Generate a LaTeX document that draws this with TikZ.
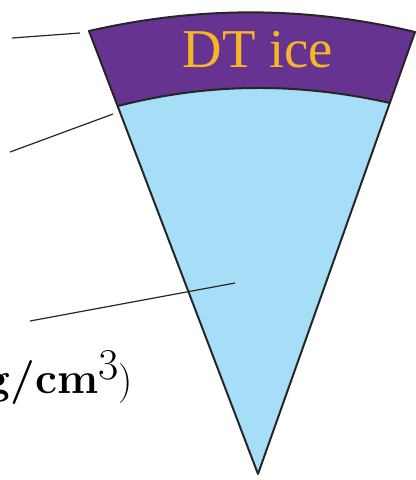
\documentclass[tikz,border=0pt]{standalone}
\usepackage{fontspec}
\setmainfont{Liberation Serif}
\newfontfamily\lmfont{Latin Modern Roman}
\definecolor{icepurple}{RGB}{102,51,145}
\definecolor{gasblue}{RGB}{166,222,247}
\definecolor{labelgold}{RGB}{247,181,40}
\begin{document}
\begin{tikzpicture}[
  x=0.75pt,y=-0.75pt,
  shell/.style={draw=black!85, line width=1.5pt, line join=round},
  leader/.style={draw=black!85, line width=0.9pt}
]
\useasboundingbox (0,0) rectangle (416,480);
\coordinate (apex) at (258,474);
\coordinate (outerL) at (89,31);
\coordinate (outerR) at (415,32);
\coordinate (innerL) at (118,106);
\coordinate (innerR) at (390,103);
\fill[icepurple] (outerL) .. controls (198,6) and (306,6) .. (outerR) -- (innerR) .. controls (299,82.5) and (209,82.5) .. (innerL) -- cycle;
\fill[gasblue] (innerL) .. controls (209,82.5) and (299,82.5) .. (innerR) -- (apex) -- cycle;
\draw[shell] (apex) -- (outerL) .. controls (198,6) and (306,6) .. (outerR) -- cycle;
\draw[shell] (innerL) .. controls (209,82.5) and (299,82.5) .. (innerR);
\node[text=labelgold, font=\fontsize{41}{48}\selectfont, anchor=base] (ice) at (258,67) {DT ice};
\node[font=\lmfont, anchor=base east, inner sep=0pt] (density) at (133,393) {{\fontsize{33}{40}\selectfont\bfseries g/cm}\raisebox{10pt}{\fontsize{33}{40}\selectfont 3}{\fontsize{30}{36}\selectfont)}};
\coordinate (lead1a) at (12,38);
\coordinate (lead1b) at (80,33);
\coordinate (lead2a) at (10,152);
\coordinate (lead2b) at (113,114);
\coordinate (lead3a) at (30,321);
\coordinate (lead3b) at (235,283);
\draw[leader] (lead1a) -- (lead1b);
\draw[leader] (lead2a) -- (lead2b);
\draw[leader] (lead3a) -- (lead3b);
\end{tikzpicture}
\end{document}
